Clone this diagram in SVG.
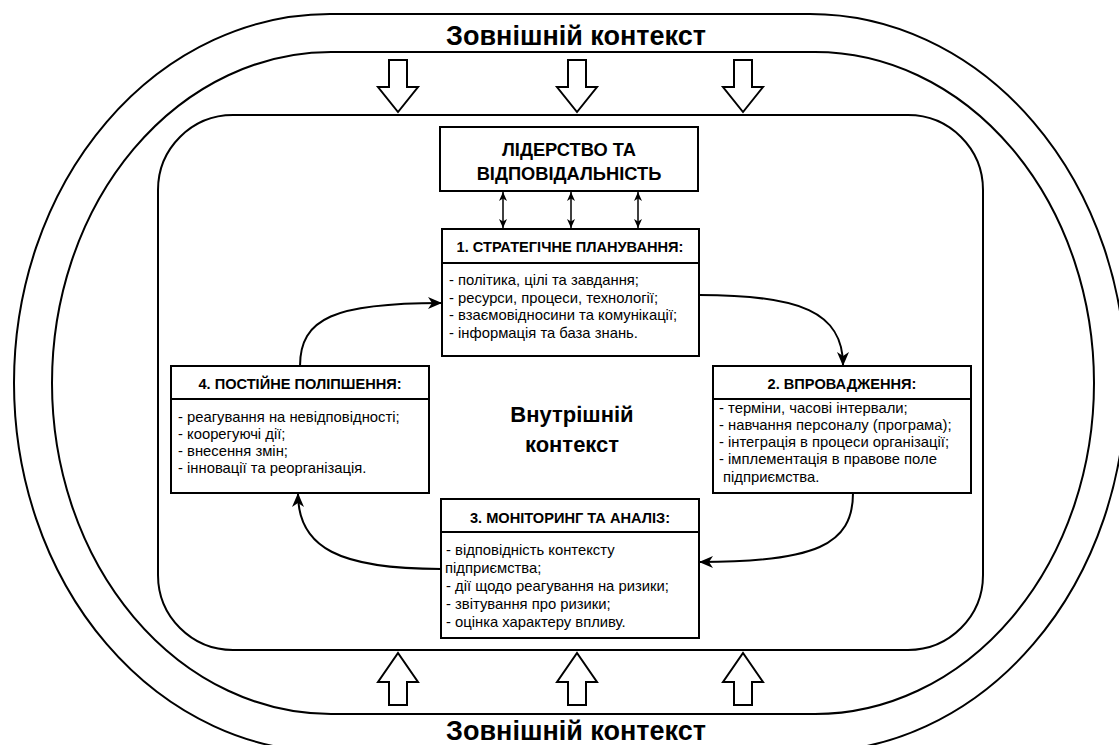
<svg xmlns="http://www.w3.org/2000/svg" width="1119" height="745" viewBox="0 0 1119 745">
<style>
.frame{fill:none;stroke:#000;stroke-width:2}
.box{fill:#fff;stroke:#000;stroke-width:2}
.blk{fill:#fff;stroke:#000;stroke-width:2;stroke-linejoin:miter}
.con{fill:none;stroke:#000;stroke-width:2}
.dbl{fill:none;stroke:#000;stroke-width:1.5}
text{font-family:"Liberation Sans",Arial,sans-serif;fill:#000}
.ext{font-size:27px;font-weight:bold}
.mid{font-size:22px;font-weight:bold}
.hd{font-size:14.6px;font-weight:bold}
.lead{font-size:18.3px;font-weight:bold}
.it{font-size:14.8px}
</style>
<defs>
<marker id="arr" viewBox="0 0 14 12" refX="13" refY="6" markerWidth="14" markerHeight="12" orient="auto" markerUnits="userSpaceOnUse">
<path d="M0,0 L14,6 L0,12 L4,6 Z" fill="#000"/>
</marker>
<marker id="sm" viewBox="0 0 9 8" refX="9" refY="4" markerWidth="9" markerHeight="8" orient="auto-start-reverse" markerUnits="userSpaceOnUse">
<path d="M0,0 L9,4 L0,8 L2.5,4 Z" fill="#000"/>
</marker>
</defs>
<rect width="1119" height="745" fill="#fff"/>
<g id="external-context">
<path class="frame" d="M330,14 L810,14 A316,369 0 0 1 810,752 L330,752 A316,369 0 0 1 330,14 Z"/>
<path class="frame" d="M331,52 L815,52 A279,331 0 0 1 815,714 L331,714 A279,331 0 0 1 331,52 Z"/>
<text class="ext" x="576" y="45" text-anchor="middle">Зовнішній контекст</text>
<text class="ext" x="576" y="740" text-anchor="middle">Зовнішній контекст</text>
</g>
<g id="influence-arrows">
<polygon class="blk" points="389,60 407,60 407,87 418,87 398,112 378,87 389,87"/>
<polygon class="blk" points="568,60 586,60 586,87 597,87 577,112 557,87 568,87"/>
<polygon class="blk" points="734,60 752,60 752,87 763,87 743,112 723,87 734,87"/>
<polygon class="blk" points="389,705 407,705 407,682 418,682 398,653 378,682 389,682"/>
<polygon class="blk" points="568,705 586,705 586,682 597,682 577,653 557,682 568,682"/>
<polygon class="blk" points="734,705 752,705 752,682 763,682 743,653 723,682 734,682"/>
</g>
<g id="internal-context">
<rect class="frame" x="158" y="115" width="825" height="535" rx="75" ry="75"/>
<text class="mid" x="572" y="422" text-anchor="middle">Внутрішній</text>
<text class="mid" x="572" y="452" text-anchor="middle">контекст</text>
</g>
<g id="connectors">
<line class="dbl" x1="503" y1="192" x2="503" y2="228" marker-start="url(#sm)" marker-end="url(#sm)"/>
<line class="dbl" x1="571" y1="192" x2="571" y2="228" marker-start="url(#sm)" marker-end="url(#sm)"/>
<line class="dbl" x1="638" y1="192" x2="638" y2="228" marker-start="url(#sm)" marker-end="url(#sm)"/>
<path class="con" d="M300,366 C300,318 335,303 441,303" marker-end="url(#arr)"/>
<path class="con" d="M699,295 C800,295 843,312 843,365" marker-end="url(#arr)"/>
<path class="con" d="M853,493 C853,545 815,562 700,562" marker-end="url(#arr)"/>
<path class="con" d="M441,569 C340,569 298,548 298,494" marker-end="url(#arr)"/>
</g>
<g id="leadership">
<rect class="box" x="440" y="127" width="258" height="64"/>
<text class="lead" x="569" y="156" text-anchor="middle">ЛІДЕРСТВО ТА</text>
<text class="lead" x="569" y="180" text-anchor="middle">ВІДПОВІДАЛЬНІСТЬ</text>
</g>
<g id="step1">
<rect class="box" x="442" y="229" width="257" height="127"/>
<line class="frame" x1="442" y1="263" x2="699" y2="263"/>
<text class="hd" x="570" y="252" text-anchor="middle">1. СТРАТЕГІЧНЕ ПЛАНУВАННЯ:</text>
<text class="it" x="449" y="285">- політика, цілі та завдання;</text>
<text class="it" x="449" y="302.5">- ресурси, процеси, технології;</text>
<text class="it" x="449" y="320">- взаємовідносини та комунікації;</text>
<text class="it" x="449" y="337.5">- інформація та база знань.</text>
</g>
<g id="step2">
<rect class="box" x="713" y="366" width="258" height="127"/>
<line class="frame" x1="713" y1="399" x2="971" y2="399"/>
<text class="hd" x="842" y="389" text-anchor="middle">2. ВПРОВАДЖЕННЯ:</text>
<text class="it" x="719" y="413">- терміни, часові інтервали;</text>
<text class="it" x="719" y="430">- навчання персоналу (програма);</text>
<text class="it" x="719" y="447">- інтеграція в процеси організації;</text>
<text class="it" x="719" y="464">- імплементація в правове поле</text>
<text class="it" x="723" y="482">підприємства.</text>
</g>
<g id="step3">
<rect class="box" x="441" y="499" width="258" height="139"/>
<line class="frame" x1="441" y1="532" x2="699" y2="532"/>
<text class="hd" x="570" y="523" text-anchor="middle">3. МОНІТОРИНГ ТА АНАЛІЗ:</text>
<text class="it" x="446" y="555">- відповідність контексту</text>
<text class="it" x="445" y="573">підприємства;</text>
<text class="it" x="446" y="591">- дії щодо реагування на ризики;</text>
<text class="it" x="446" y="608.5">- звітування про ризики;</text>
<text class="it" x="446" y="627">- оцінка характеру впливу.</text>
</g>
<g id="step4">
<rect class="box" x="171" y="366" width="258" height="127"/>
<line class="frame" x1="171" y1="399" x2="429" y2="399"/>
<text class="hd" x="300" y="389" text-anchor="middle">4. ПОСТІЙНЕ ПОЛІПШЕННЯ:</text>
<text class="it" x="178" y="422">- реагування на невідповідності;</text>
<text class="it" x="178" y="439">- коорегуючі дії;</text>
<text class="it" x="178" y="456">- внесення змін;</text>
<text class="it" x="178" y="473">- інновації та реорганізація.</text>
</g>
</svg>
